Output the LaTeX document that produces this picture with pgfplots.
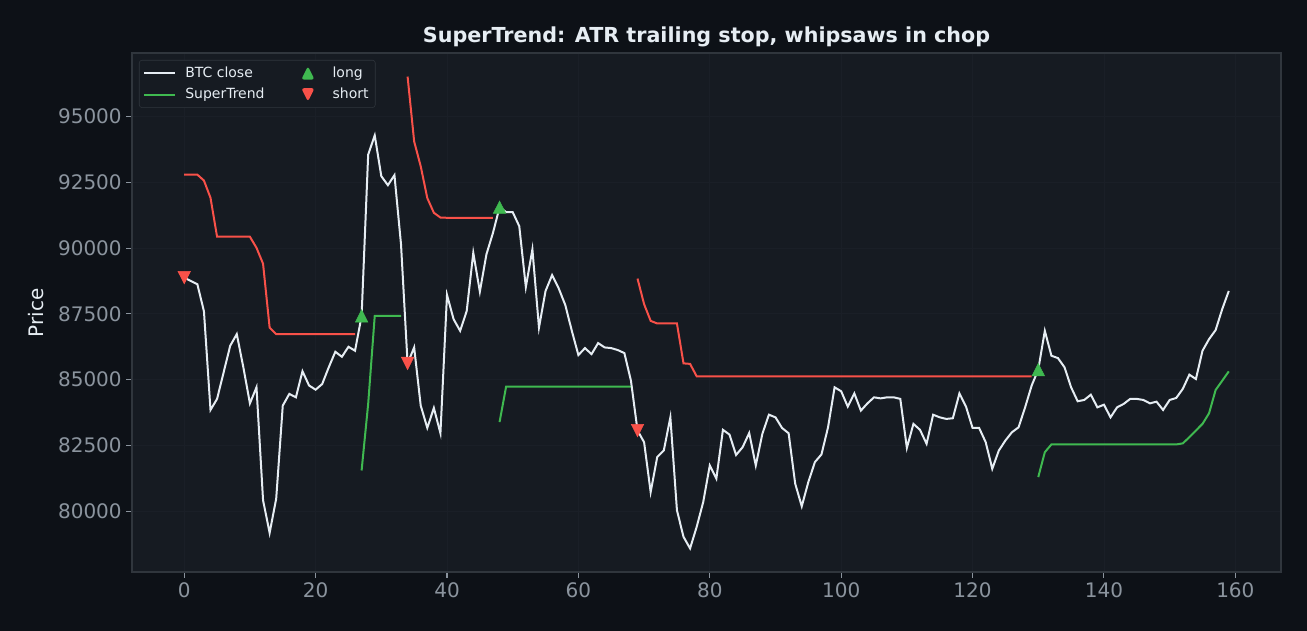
\documentclass[border=0pt]{standalone}
\usepackage{fontspec}
\setmainfont{DejaVu Sans}
\usepackage{pgfplots}
\pgfplotsset{compat=1.18}

\definecolor{bgout}{HTML}{0D1117}
\definecolor{bgax}{HTML}{161B22}
\definecolor{frame}{HTML}{30363D}
\definecolor{gridc}{HTML}{1A1F27}
\definecolor{ticktxt}{HTML}{8B949E}
\definecolor{txt}{HTML}{E6EDF3}
\definecolor{closec}{HTML}{E6EDF3}
\definecolor{upc}{HTML}{3FB950}
\definecolor{dnc}{HTML}{F85149}

\pgfplotsset{
  linelegend/.style={legend image code/.code={\draw[##1] (0pt,0pt) -- (23pt,0pt);}},
  uplegend/.style={legend image code/.code={\path[draw=none] (0pt,0pt) (23pt,0pt);
    \fill[upc, draw=none] (6.5pt,-4.75pt) -- (16.5pt,-4.75pt) -- (11.5pt,5.25pt) -- cycle;}},
  dnlegend/.style={legend image code/.code={\path[draw=none] (0pt,0pt) (23pt,0pt);
    \fill[dnc, draw=none] (6.5pt,4.75pt) -- (16.5pt,4.75pt) -- (11.5pt,-5.25pt) -- cycle;}},
}

\begin{document}
\begin{tikzpicture}
\fill[bgout] (0,0) rectangle (980.25pt,473.25pt);
\node[text=txt, font=\fontsize{15.5}{18}\selectfont\bfseries] at (529.9pt,445.5pt) {SuperTrend: ATR trailing stop, whipsaws in chop};
\node[text=txt, font=\fontsize{15}{18}\selectfont, rotate=90] at (27pt,238.5pt) {Price};
\begin{axis}[
  at={(99pt,44.25pt)}, anchor=south west,
  scale only axis, width=861.75pt, height=389.25pt,
  xmin=-7.95, xmax=166.95, ymin=77694, ymax=97411,
  axis background/.style={fill=bgax},
  axis line style={frame, line width=0.8pt},
  xtick={0,20,...,160},
  ytick={80000,82500,...,95000},
  tick align=outside, tick pos=left,
  major tick length=4.2pt,
  every tick/.style={ticktxt, line width=0.8pt},
  tick label style={text=ticktxt, font=\fontsize{15}{18}\selectfont},
  /pgf/number format/assume math mode=true,
  /pgf/number format/set thousands separator={},
  scaled y ticks=false,
  grid=major,
  major grid style={gridc, line width=0.6pt},
  legend columns=2,
  legend cell align=left,
  legend style={at={(0,1)}, anchor=north west, xshift=5.25pt, yshift=-5.25pt,
    fill=bgax, draw=frame, rounded corners=2pt, text=txt,
    font=\fontsize{10.5}{12}\selectfont, row sep=2.5pt,
    inner xsep=3pt, inner ysep=3pt,
    /tikz/every odd column/.append style={column sep=5pt},
    /tikz/every even column/.append style={column sep=19pt}},
]
\addlegendimage{linelegend, closec, line width=1.5pt}
\addlegendentry{BTC close}
\addlegendimage{uplegend}
\addlegendentry{long}
\addlegendimage{linelegend, upc, line width=1.5pt}
\addlegendentry{SuperTrend}
\addlegendimage{dnlegend}
\addlegendentry{short}

% supertrend, red while short
\addplot[dnc, line width=1.5pt, forget plot] coordinates {
(0,92790)(1,92790)(2,92790)(3,92565)(4,91910)(5,90430)(6,90430)(7,90430)(8,90430)(9,90430)
(10,90430)(11,90010)(12,89405)(13,86980)(14,86730)(15,86730)(16,86730)(17,86730)(18,86730)
(19,86730)(20,86730)(21,86730)(22,86730)(23,86730)(24,86730)(25,86730)(26,86730)};
\addplot[upc, line width=1.5pt, forget plot] coordinates {
(27,81550)(28,84080)(29,87425)(30,87425)(31,87425)(32,87425)(33,87425)};
\addplot[dnc, line width=1.5pt, forget plot] coordinates {
(34,96515)(35,94050)(36,93105)(37,91900)(38,91340)(39,91160)(40,91150)(41,91150)(42,91150)
(43,91150)(44,91150)(45,91150)(46,91150)(47,91150)};
\addplot[upc, line width=1.5pt, forget plot] coordinates {
(48,83390)(49,84740)(50,84740)(51,84740)(52,84740)(53,84740)(54,84740)(55,84740)(56,84740)
(57,84740)(58,84740)(59,84740)(60,84740)(61,84740)(62,84740)(63,84740)(64,84740)(65,84740)
(66,84740)(67,84740)(68,84740)};
\addplot[dnc, line width=1.5pt, forget plot] coordinates {
(69,88840)(70,87870)(71,87235)(72,87135)(73,87135)(74,87135)(75,87135)(76,85620)(77,85600)
(78,85130)(79,85130)(80,85130)(81,85130)(82,85130)(83,85130)(84,85130)(85,85130)(86,85130)
(87,85130)(88,85130)(89,85130)(90,85130)(91,85130)(92,85130)(93,85130)(94,85130)(95,85130)
(96,85130)(97,85130)(98,85130)(99,85130)(100,85130)(101,85130)(102,85130)(103,85130)
(104,85130)(105,85130)(106,85130)(107,85130)(108,85130)(109,85130)(110,85130)(111,85130)
(112,85130)(113,85130)(114,85130)(115,85130)(116,85130)(117,85130)(118,85130)(119,85130)
(120,85130)(121,85130)(122,85130)(123,85130)(124,85130)(125,85130)(126,85130)(127,85130)
(128,85130)(129,85130)};
\addplot[upc, line width=1.5pt, forget plot] coordinates {
(130,81300)(131,82245)(132,82540)(133,82540)(134,82540)(135,82540)(136,82540)(137,82540)
(138,82540)(139,82540)(140,82540)(141,82540)(142,82540)(143,82540)(144,82540)(145,82540)
(146,82540)(147,82540)(148,82540)(149,82540)(150,82540)(151,82540)(152,82580)(153,82815)
(154,83070)(155,83320)(156,83725)(157,84610)(158,84960)(159,85315)};

% close
\addplot[closec, line width=1.5pt, forget plot] coordinates {
(0,88880)(1,88750)(2,88625)(3,87600)(4,83850)(5,84270)(6,85280)(7,86290)(8,86730)(9,85470)
(10,84100)(11,84710)(12,80420)(13,79180)(14,80480)(15,84015)(16,84460)(17,84330)(18,85320)(19,84780)
(20,84620)(21,84835)(22,85470)(23,86060)(24,85870)(25,86250)(26,86100)(27,87420)(28,93550)(29,94280)
(30,92730)(31,92390)(32,92770)(33,90140)(34,85620)(35,86225)(36,84015)(37,83170)(38,83925)(39,82965)
(40,88220)(41,87300)(42,86855)(43,87610)(44,89820)(45,88345)(46,89760)(47,90580)(48,91550)(49,91365)
(50,91365)(51,90830)(52,88520)(53,89950)(54,86980)(55,88370)(56,88975)(57,88470)(58,87840)(59,86855)
(60,85935)(61,86200)(62,85970)(63,86390)(64,86225)(65,86200)(66,86125)(67,86010)(68,84960)(69,83070)
(70,82625)(71,80730)(72,82060)(73,82310)(74,83570)(75,80040)(76,79030)(77,78590)(78,79405)(79,80350)
(80,81740)(81,81240)(82,83095)(83,82915)(84,82140)(85,82435)(86,82975)(87,81740)(88,82940)(89,83670)
(90,83570)(91,83165)(92,82965)(93,81050)(94,80190)(95,81110)(96,81870)(97,82160)(98,83190)(99,84710)
(100,84560)(101,83980)(102,84480)(103,83825)(104,84100)(105,84330)(106,84290)(107,84330)(108,84330)(109,84270)
(110,82410)(111,83320)(112,83095)(113,82565)(114,83670)(115,83570)(116,83510)(117,83535)(118,84480)(119,83980)
(120,83165)(121,83165)(122,82625)(123,81615)(124,82310)(125,82690)(126,83005)(127,83190)(128,83950)(129,84780)
(130,85380)(131,86855)(132,85910)(133,85820)(134,85470)(135,84710)(136,84180)(137,84230)(138,84430)(139,83950)
(140,84050)(141,83570)(142,83950)(143,84080)(144,84270)(145,84270)(146,84230)(147,84100)(148,84165)(149,83850)
(150,84230)(151,84305)(152,84650)(153,85190)(154,85025)(155,86100)(156,86540)(157,86885)(158,87680)(159,88370)};

% signals
\addplot[only marks, mark=triangle*, mark size=6.2pt, forget plot,
  mark options={fill=upc, draw=upc, xscale=0.87, yshift=-1.5pt}] coordinates {
(27,87420)(48,91550)(130,85380)};
\addplot[only marks, mark=triangle*, mark size=6.2pt, forget plot,
  mark options={fill=dnc, draw=dnc, xscale=0.87, yshift=1.5pt, rotate=180}] coordinates {
(0,88880)(34,85620)(69,83070)};
\end{axis}
\end{tikzpicture}
\end{document}
